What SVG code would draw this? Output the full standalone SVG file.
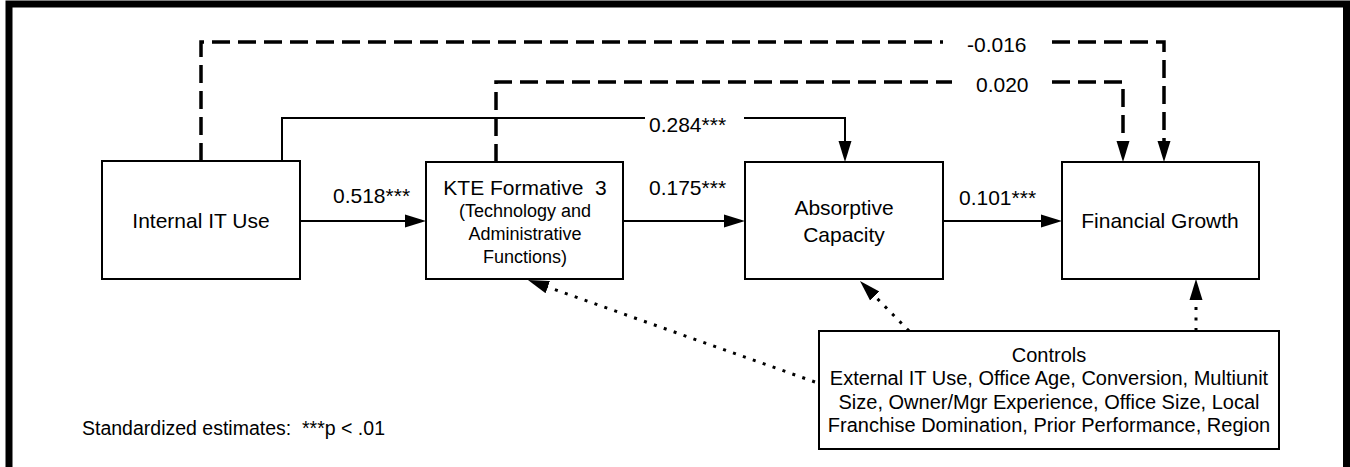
<svg xmlns="http://www.w3.org/2000/svg" width="1350" height="467" viewBox="0 0 1350 467">
  <defs>
    <style>
      .box { fill: #fff; stroke: #000; stroke-width: 2; }
      .lbl { font-family: "Liberation Sans", Arial, sans-serif; fill: #000; }
      .big { font-size: 21px; }
      .mid { font-size: 20px; }
      .sm { font-size: 18px; }
      .solid { fill: none; stroke: #000; stroke-width: 2; }
      .dash { fill: none; stroke: #000; stroke-width: 3.5; stroke-dasharray: 18 8; }
      .dot { fill: none; stroke: #000; stroke-width: 3; stroke-dasharray: 3 7.5; }
    </style>
    <marker id="ah" markerUnits="userSpaceOnUse" markerWidth="22" markerHeight="16" viewBox="0 0 22 16" refX="13" refY="8" orient="auto">
      <path d="M0,1.5 L21,8 L0,14.5 z" fill="#000"/>
    </marker>
  </defs>

  <rect width="1350" height="467" fill="#fff"/>

  <!-- outer frame (open at the bottom) -->
  <path d="M9,467 V4 H1346.5 V467" fill="none" stroke="#000" stroke-width="7"/>

  <!-- connectors -->
  <g id="connectors">
    <!-- main solid paths -->
    <path class="solid" d="M300,221 H418" marker-end="url(#ah)"/>
    <path class="solid" d="M623,221 H737" marker-end="url(#ah)"/>
    <path class="solid" d="M943,221 H1054" marker-end="url(#ah)"/>
    <!-- Internal IT Use to Absorptive Capacity -->
    <path class="solid" d="M282,161 V118 H645"/>
    <path class="solid" d="M744,118 H845 V154" marker-end="url(#ah)"/>
    <!-- Internal IT Use to Financial Growth (dashed) -->
    <path class="dash" d="M201,161 V42 H943"/>
    <path class="dash" d="M1052,42 H1164 V154" marker-end="url(#ah)"/>
    <!-- KTE to Financial Growth (dashed) -->
    <path class="dash" d="M496,162 V82 H952"/>
    <path class="dash" d="M1052,82 H1123 V154" marker-end="url(#ah)"/>
    <!-- controls (dotted) -->
    <path class="dot" d="M815,382 L535.5,282.7" marker-end="url(#ah)"/>
    <path class="dot" d="M909,331 L865.6,286.7" marker-end="url(#ah)"/>
    <path class="dot" d="M1196,331 V287" marker-end="url(#ah)"/>

    <!-- path coefficients -->
    <text class="lbl big" x="333" y="203">0.518***</text>
    <text class="lbl big" x="649" y="132">0.284***</text>
    <text class="lbl big" x="649" y="195">0.175***</text>
    <text class="lbl big" x="959" y="205">0.101***</text>
    <text class="lbl big" x="967" y="52">-0.016</text>
    <text class="lbl big" x="976" y="92">0.020</text>
  </g>

  <g id="internal-it-use">
    <rect class="box" x="102" y="161" width="198" height="118"/>
    <text class="lbl big" x="201" y="228" text-anchor="middle">Internal IT Use</text>
  </g>

  <g id="kte-formative">
    <rect class="box" x="426" y="162" width="197" height="117"/>
    <text class="lbl big" x="525" y="195" text-anchor="middle" style="white-space:pre">KTE Formative  3</text>
    <text class="lbl sm" x="525" y="217" text-anchor="middle">(Technology and</text>
    <text class="lbl sm" x="525" y="240" text-anchor="middle">Administrative</text>
    <text class="lbl sm" x="525" y="263" text-anchor="middle">Functions)</text>
  </g>

  <g id="absorptive-capacity">
    <rect class="box" x="745" y="162" width="198" height="117"/>
    <text class="lbl big" x="844" y="215" text-anchor="middle">Absorptive</text>
    <text class="lbl big" x="844" y="242" text-anchor="middle">Capacity</text>
  </g>

  <g id="financial-growth">
    <rect class="box" x="1062" y="162" width="197" height="117"/>
    <text class="lbl big" x="1160" y="228" text-anchor="middle">Financial Growth</text>
  </g>

  <g id="controls">
    <rect class="box" x="819" y="331" width="460" height="118"/>
    <text class="lbl mid" x="1049" y="362" text-anchor="middle">Controls</text>
    <text class="lbl mid" x="1049" y="385" text-anchor="middle">External IT Use, Office Age, Conversion, Multiunit</text>
    <text class="lbl mid" x="1049" y="409" text-anchor="middle">Size, Owner/Mgr Experience, Office Size, Local</text>
    <text class="lbl mid" x="1049" y="432" text-anchor="middle">Franchise Domination, Prior Performance, Region</text>
  </g>

  <text class="lbl" x="82" y="435" font-size="19.5" style="white-space:pre">Standardized estimates:  ***p &lt; .01</text>
</svg>
